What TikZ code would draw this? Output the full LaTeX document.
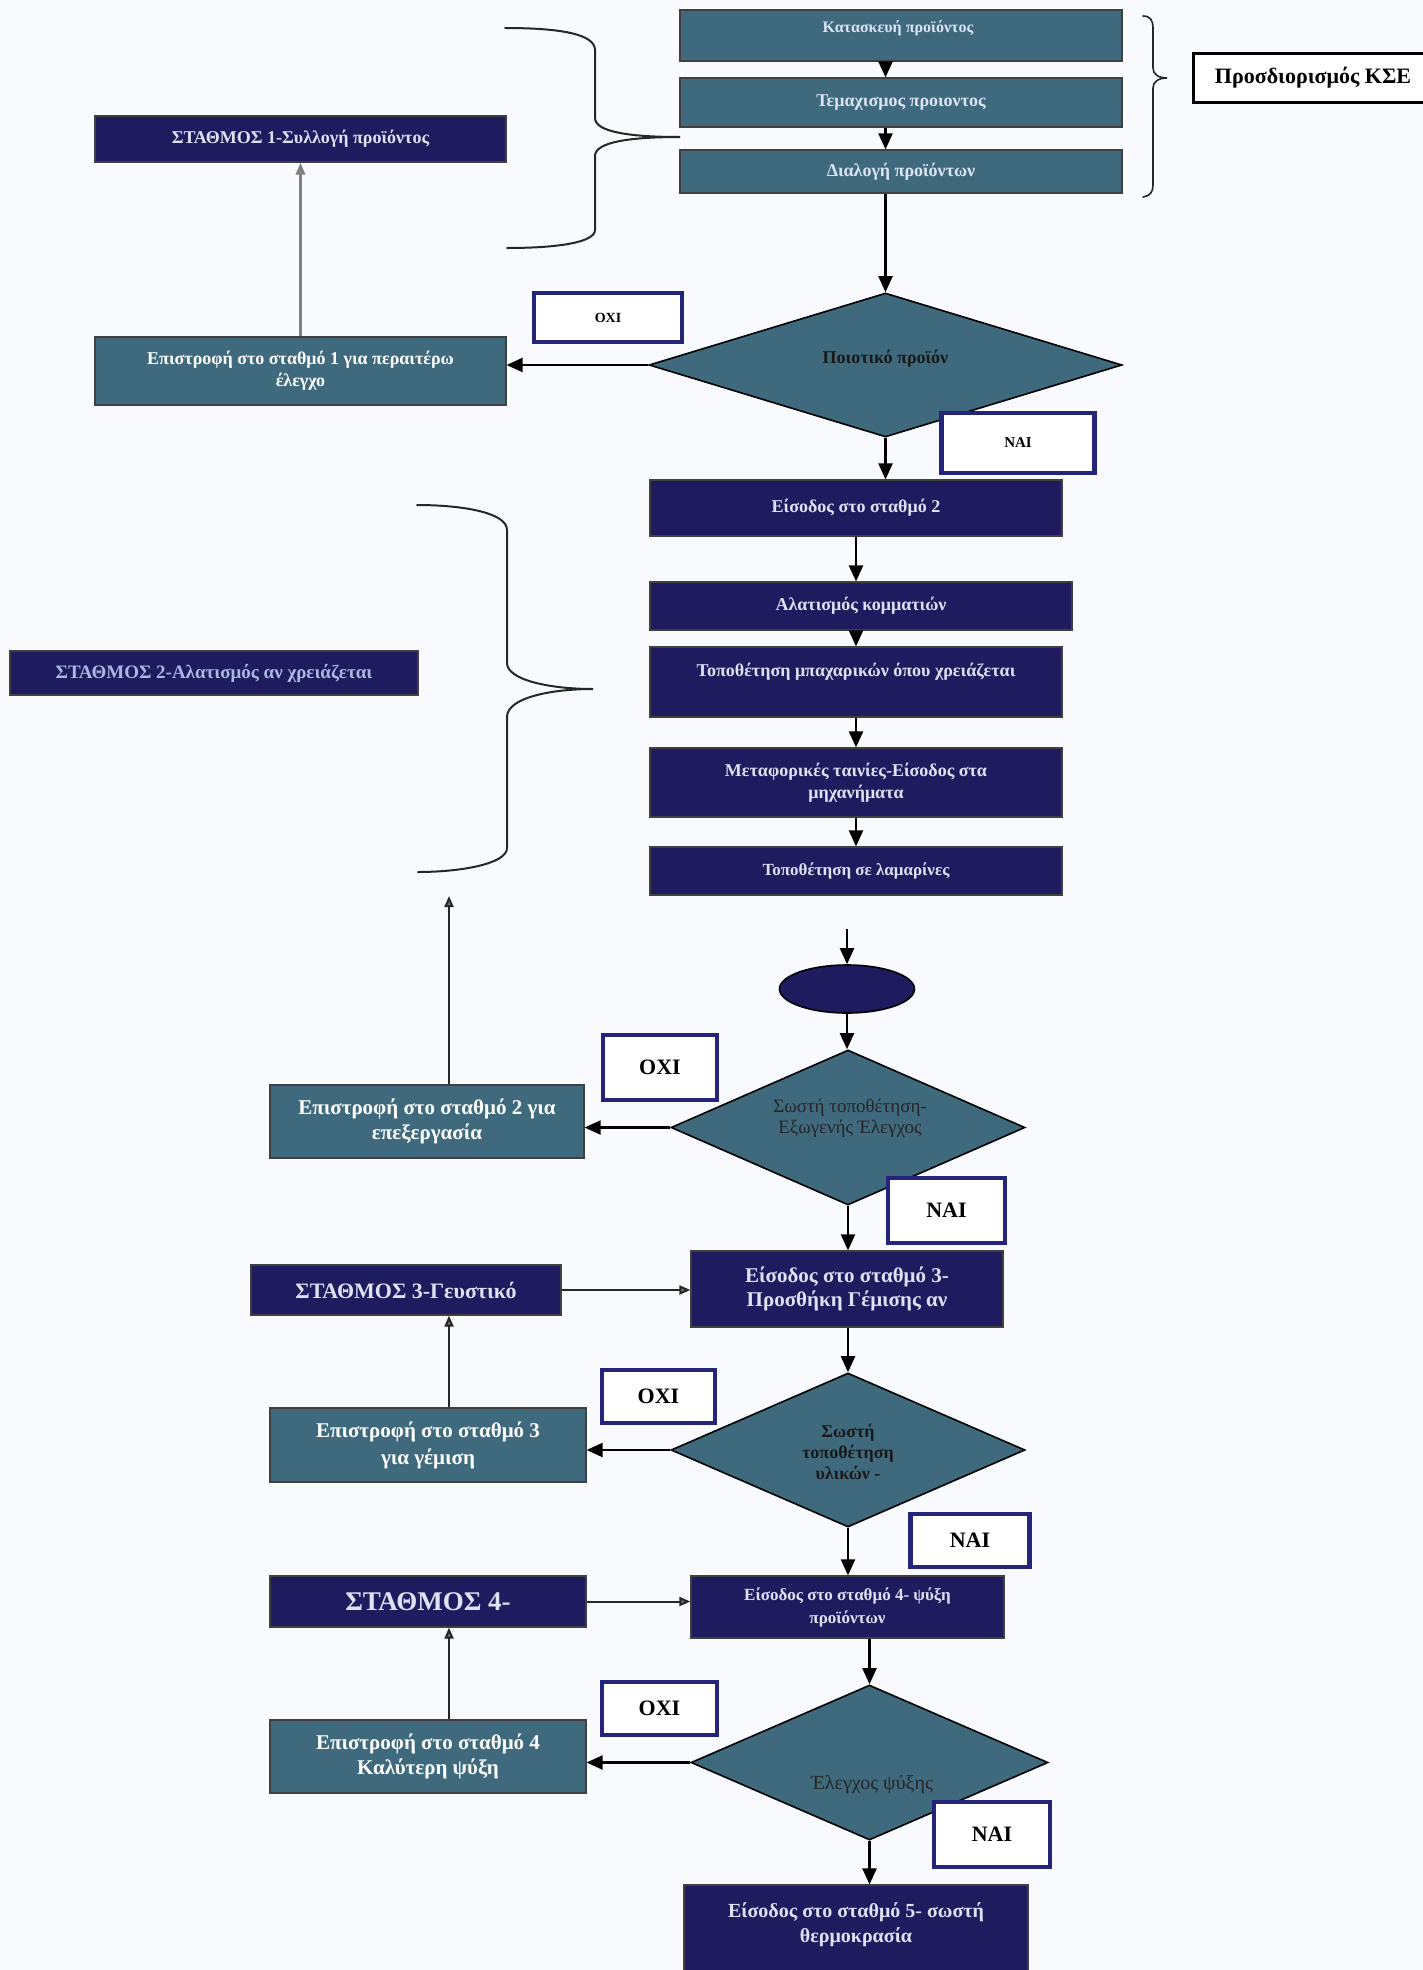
\documentclass[tikz,border=0pt]{standalone}
\usepackage{fontspec}
\setmainfont{Liberation Serif}
\usetikzlibrary{shapes.geometric,arrows.meta,calc}

\definecolor{pagebg}{HTML}{F9FAFD}
\definecolor{tealfill}{HTML}{3F6A7D}
\definecolor{navyfill}{HTML}{1E1C5E}
\definecolor{navyline}{HTML}{24247A}
\definecolor{paletext}{HTML}{DCE3F4}
\definecolor{dimtext}{HTML}{A9B8E2}

\newcommand\fsz[2]{\fontsize{#1}{#2}\selectfont}

\tikzset{
  tbox/.style={draw=black!75, line width=1.2pt, fill=tealfill, text=white,
    inner sep=0pt, align=center, font=\fsz{18}{22}\bfseries},
  nbox/.style={draw=black!75, line width=1.2pt, fill=navyfill, text=paletext,
    inner sep=0pt, align=center, font=\fsz{18}{22}\bfseries},
  tagbox/.style={draw=navyline, line width=4.5pt, fill=white, text=black,
    inner sep=0pt, font=\fsz{22}{26}\bfseries},
  decision/.style={diamond, draw=black, line width=1.6pt, fill=tealfill,
    inner sep=0pt, align=center, text=black!90},
  freetext/.style={inner sep=0pt, align=center},
  arr/.style={line width=2.2pt, draw=black,
    -{Triangle[length=16pt,width=14pt]}},
  backarr/.style={line width=2pt, draw=black!85,
    -{Triangle[length=11pt,width=9pt,fill=black!55]}},
  brace/.style={line width=2pt, draw=black!85, line cap=round}
}

\begin{document}
\begin{tikzpicture}[x=1pt,y=-1pt]
\fill[pagebg] (0,0) rectangle (1423,1970);
\useasboundingbox (0,0) rectangle (1423,1970);

% ---------- product definition chain (top right)
\node[tbox, minimum width=442, minimum height=51] (k1) at (901,35.5) {};
\node[freetext, text=paletext, font=\fsz{16}{19}\bfseries] (k1t) at (898,28) {Κατασκευή προϊόντος};
\node[tbox, minimum width=442, minimum height=49, text=paletext] (k2) at (901,102.5) {Τεμαχισμος προιοντος};
\node[tbox, minimum width=442, minimum height=43, text=paletext] (k3) at (901,171.5) {Διαλογή προϊόντων};

\node[draw=black, line width=3pt, fill=white, inner sep=0pt, minimum width=240,
      minimum height=49, font=\fsz{22}{26}\bfseries] (kse) at (1313,78) {Προσδιορισμός ΚΣΕ};

% brace grouping the three steps, pointing to the KSE label
\draw[brace, line width=1.6pt] (1143,16) .. controls (1150,16) and (1153,20) .. (1153,28) -- (1153,68)
  .. controls (1153,74) and (1158,78) .. (1167,78)
  .. controls (1158,78) and (1153,82) .. (1153,88) -- (1153,185)
  .. controls (1153,192) and (1150,196) .. (1143,197);

% brace grouping the three steps under station 1
\draw[brace] (505,28) .. controls (560,28) and (595,34) .. (595,50) -- (595,118)
  .. controls (595,132) and (630,137) .. (680,137)
  .. controls (630,137) and (595,142) .. (595,156) -- (595,230)
  .. controls (595,242) and (560,248) .. (507,248);

\node[nbox, minimum width=411, minimum height=46] (st1) at (300.5,139) {ΣΤΑΘΜΟΣ 1-Συλλογή προϊόντος};
\node[tbox, minimum width=411, minimum height=68] (ep1) at (300.5,371) {Επιστροφή στο σταθμό 1 για περαιτέρω\\έλεγχο};

\node[tagbox, minimum width=148, minimum height=49, font=\fsz{14}{17}\bfseries] (oxi1) at (608,317.5) {ΟΧΙ};
\node[decision, minimum width=473, minimum height=144, font=\fsz{18}{22}\bfseries] (d1) at (885.5,365) {};
\node[freetext, font=\fsz{18}{22}\bfseries, text=black!90] (d1t) at (885.5,359) {Ποιοτικό προϊόν};
\node[tagbox, minimum width=153, minimum height=60, font=\fsz{15}{18}\bfseries] (nai1) at (1018,443) {ΝΑΙ};

% ---------- station 2
\node[nbox, minimum width=412, minimum height=56] (e2) at (856,508) {Είσοδος στο σταθμό 2};
\node[nbox, minimum width=422, minimum height=48] (al) at (861,606) {Αλατισμός κομματιών};
\node[nbox, minimum width=412, minimum height=70] (tp) at (856,682) {};
\node[freetext, text=paletext, font=\fsz{18}{22}\bfseries] (tpt) at (856,672) {Τοποθέτηση μπαχαρικών όπου χρειάζεται};
\node[nbox, minimum width=412, minimum height=69] (mt) at (856,782.5) {Μεταφορικές ταινίες-Είσοδος στα\\μηχανήματα};
\node[nbox, minimum width=412, minimum height=48, font=\fsz{17}{20}\bfseries] (tl) at (856,871) {Τοποθέτηση σε λαμαρίνες};

\node[nbox, minimum width=408, minimum height=44, text=dimtext, font=\fsz{19}{22}\bfseries] (st2) at (214,673) {ΣΤΑΘΜΟΣ 2-Αλατισμός αν χρειάζεται};

\draw[brace] (417,505) .. controls (460,505) and (507,512) .. (507,530) -- (507,663)
  .. controls (507,680) and (550,689) .. (593,689)
  .. controls (550,689) and (507,698) .. (507,717) -- (507,848)
  .. controls (507,864) and (460,872) .. (418,872);

% ---------- external control
\coordinate (in2) at (847,929);
\node[ellipse, draw=black, line width=1.6pt, fill=navyfill, minimum width=135, minimum height=48, inner sep=0pt] (ov) at (847,989) {};
\node[decision, minimum width=354, minimum height=155] (d2) at (848,1127.5) {};
\node[freetext, font=\fsz{19}{21}, text=black!85] (d2t) at (850,1118) {Σωστή τοποθέτηση-\\Εξωγενής Έλεγχος};
\node[tagbox, minimum width=114, minimum height=65] (oxi2) at (660,1067.5) {ΟΧΙ};
\node[tbox, minimum width=314, minimum height=73, font=\fsz{21}{25}\bfseries] (ep2) at (427,1121.5) {Επιστροφή στο σταθμό 2 για\\επεξεργασία};
\node[tagbox, minimum width=117, minimum height=65] (nai2) at (946.5,1210.5) {ΝΑΙ};
\coordinate (up2) at (449,896);

% ---------- station 3
\node[nbox, minimum width=312, minimum height=76, font=\fsz{21}{24}\bfseries] (e3) at (847,1289) {Είσοδος στο σταθμό 3-\\Προσθήκη Γέμισης αν};
\node[nbox, minimum width=310, minimum height=50, font=\fsz{22}{26}\bfseries] (st3) at (406,1290) {ΣΤΑΘΜΟΣ 3-Γευστικό};
\node[decision, minimum width=354, minimum height=154] (d3) at (848,1450) {};
\node[freetext, font=\fsz{18}{21}\bfseries, text=black!90] (d3t) at (848,1452) {Σωστή\\τοποθέτηση\\υλικών -};
\node[tagbox, minimum width=113, minimum height=53] (oxi3) at (658.5,1396.5) {ΟΧΙ};
\node[tbox, minimum width=316, minimum height=74, font=\fsz{21}{27}\bfseries] (ep3) at (428,1445) {Επιστροφή στο σταθμό 3\\για γέμιση};
\node[tagbox, minimum width=119, minimum height=53] (nai3) at (970,1540.5) {ΝΑΙ};

% ---------- station 4
\node[nbox, minimum width=313, minimum height=62, font=\fsz{17}{23}\bfseries] (e4) at (847.5,1607) {Είσοδος στο σταθμό 4- ψύξη\\προϊόντων};
\node[nbox, minimum width=316, minimum height=51, font=\fsz{27}{30}\bfseries] (st4) at (428,1601.5) {ΣΤΑΘΜΟΣ 4-};
\node[decision, minimum width=357, minimum height=155] (d4) at (869.5,1762.5) {};
\node[freetext, font=\fsz{20}{24}, text=black!85] (d4t) at (872,1785) {Έλεγχος ψύξης};
\node[tagbox, minimum width=115, minimum height=53] (oxi4) at (659.5,1708.5) {ΟΧΙ};
\node[tbox, minimum width=316, minimum height=73, font=\fsz{21}{25}\bfseries] (ep4) at (428,1756.5) {Επιστροφή στο σταθμό 4\\Καλύτερη ψύξη};
\node[tagbox, minimum width=116, minimum height=65] (nai4) at (992,1834.5) {ΝΑΙ};

% ---------- station 5
\node[nbox, minimum width=344, minimum height=90, font=\fsz{20}{25}\bfseries] (e5) at (856,1930) {};
\node[freetext, text=paletext, font=\fsz{20}{25}\bfseries] (e5t) at (856,1925) {Είσοδος στο σταθμό 5- σωστή\\θερμοκρασία};

% ---------- connectors
\draw[arr] (k1.south -| d1.north) -- (k2.north -| d1.north);
\draw[arr] (k2.south -| d1.north) -- (k3.north -| d1.north);
\draw[arr] (k3.south -| d1.north) -- (d1.north);
\draw[arr] (d1.west) -- (d1.west -| ep1.east);
\draw[line width=3pt, draw=black!50, -{Triangle[open,length=12pt,width=9pt]}] (ep1.north) -- (st1.south);
\draw[arr] (d1.south) -- (e2.north -| d1.south);
\draw[arr] (e2.south -| tp.north) -- (al.north -| tp.north);
\draw[arr] (al.south -| tp.north) -- (tp.north);
\draw[arr] (tp.south) -- (mt.north);
\draw[arr] (mt.south) -- (tl.north);

\draw[arr] (in2) -- (ov.north);
\draw[arr] (ov.south) -- (ov.south |- d2.north);
\draw[arr] (d2.west) -- (d2.west -| ep2.east);
\draw[backarr] ([xshift=22pt]ep2.north) -- (up2);
\draw[arr] (d2.south) -- (d2.south |- e3.north);

\draw[backarr] (st3.east) -- (st3.east -| e3.west);
\draw[arr] (e3.south -| d3.north) -- (d3.north);
\draw[arr] (d3.west) -- (d3.west -| ep3.east);
\draw[backarr] ([xshift=21pt]ep3.north) -- ([xshift=21pt]ep3.north |- st3.south);
\draw[arr] (d3.south) -- (d3.south |- e4.north);

\draw[backarr] (st4.east) -- (st4.east -| e4.west);
\draw[arr] (e4.south -| d4.north) -- (d4.north);
\draw[arr] (d4.west) -- (d4.west -| ep4.east);
\draw[backarr] ([xshift=21pt]ep4.north) -- ([xshift=21pt]ep4.north |- st4.south);
\draw[arr] (d4.south) -- (d4.south |- e5.north);
\end{tikzpicture}
\end{document}
